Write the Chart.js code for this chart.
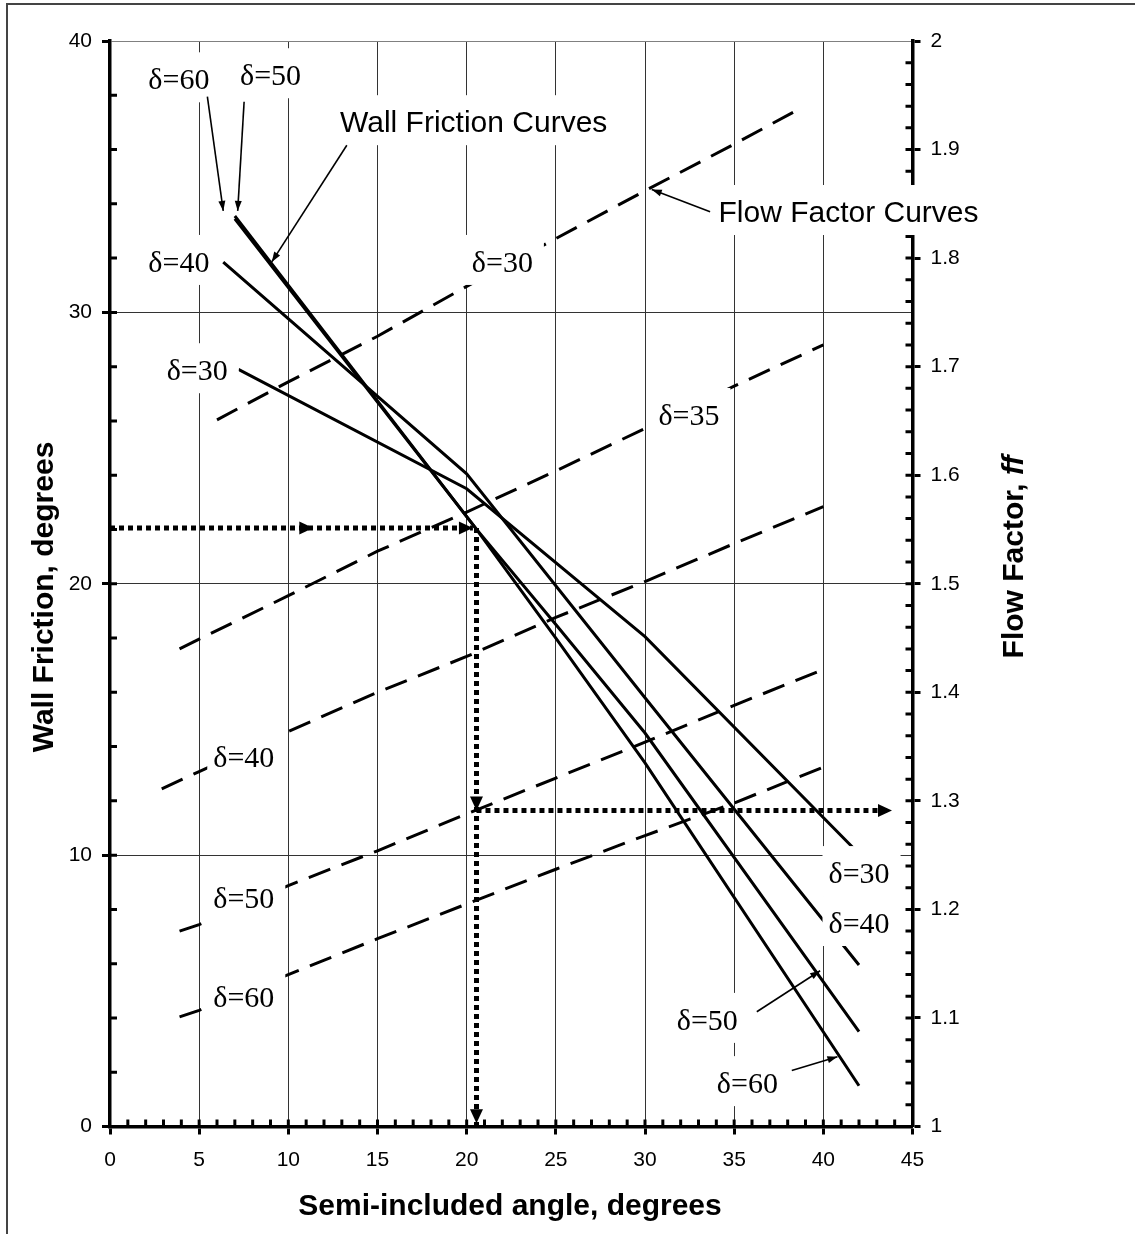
<!DOCTYPE html>
<html>
<head>
<meta charset="utf-8">
<title>Wall Friction / Flow Factor</title>
<script src="https://cdn.jsdelivr.net/npm/chart.js@4.4.1/dist/chart.umd.min.js"></script>
<style>
    html, body { margin: 0; padding: 0; background: #fff; }
    #wrap { position: relative; width: 1135px; height: 1234px; }
    canvas { display: block; }
</style>
</head>
<body>
<div id="wrap"><canvas id="chart" width="1135" height="1234"></canvas></div>
<script>
// ---- data ----
// wall friction curves (semi-included angle -> wall friction, degrees)
const wallAngle30 = [7.2, 20, 30, 42];
const wall30 = [27.9, 23.5, 18.05, 10.05];
const wallAngle40 = [6.35, 20, 30, 42];
const wall40 = [31.85, 24.05, 15.8, 5.95];
const wallAngle50 = [7.0, 20.5, 25, 30, 42];
const wall50 = [33.55, 22.05, 18.5, 14.5, 3.5];
const wallAngle60 = [7.0, 20.5, 25, 30, 42];
const wall60 = [33.45, 22.05, 18.0, 13.4, 1.5];

// flow factor curves (semi-included angle -> ff)
const ffAngle30 = [6, 10, 15, 20, 25, 30, 35, 38.5];
const ff30 = [1.651, 1.686, 1.728, 1.774, 1.818, 1.862, 1.905, 1.936];
const ffAngle35 = [3.9, 5, 10, 15, 20, 25, 30, 35, 40];
const ff35 = [1.440, 1.449, 1.489, 1.530, 1.566, 1.604, 1.643, 1.682, 1.720];
const ffAngle40 = [2.9, 5, 10, 15, 20, 25, 30, 35, 40];
const ff40 = [1.311, 1.327, 1.364, 1.400, 1.433, 1.469, 1.502, 1.537, 1.571];
const ffAngle50 = [3.9, 5, 10, 15, 20, 25, 30, 35, 40];
const ff50 = [1.180, 1.186, 1.222, 1.254, 1.288, 1.321, 1.354, 1.388, 1.421];
const ffAngle60 = [3.9, 5, 10, 15, 20, 25, 30, 35, 40];
const ff60 = [1.101, 1.107, 1.140, 1.173, 1.205, 1.237, 1.268, 1.298, 1.331];

// worked example (dotted lines)
const exampleWall = 22.05;
const exampleAngle = 20.55;
const exampleFF = 1.291;
const exampleArrowEnd = 43.85;

// axes
const xTicks = [0, 5, 10, 15, 20, 25, 30, 35, 40, 45];
const wallTicks = [0, 10, 20, 30, 40];
const ffTicks = [1, 1.1, 1.2, 1.3, 1.4, 1.5, 1.6, 1.7, 1.8, 1.9, 2];

const SANS = '"Liberation Sans", Arial, sans-serif';
const SERIF = '"Liberation Serif", "Times New Roman", serif';

function toPoints(xs, ys) {
    return xs.map((x, i) => ({ x: x, y: ys[i] }));
}

function solid(xs, ys) {
    return {
        data: toPoints(xs, ys), yAxisID: 'y', showLine: true, pointRadius: 0,
        borderColor: '#000', borderWidth: 3, tension: 0,
    };
}

function dashed(xs, ys) {
    return {
        data: toPoints(xs, ys), yAxisID: 'y2', showLine: true, pointRadius: 0,
        borderColor: '#000', borderWidth: 3, borderDash: [23, 12], tension: 0,
    };
}

function dotted(points, axis) {
    return {
        data: points, yAxisID: axis, showLine: true, pointRadius: 0,
        borderColor: '#000', borderWidth: 5, borderDash: [5, 4], borderCapStyle: 'butt',
    };
}

const datasets = [
    solid(wallAngle30, wall30),
    solid(wallAngle40, wall40),
    solid(wallAngle50, wall50),
    solid(wallAngle60, wall60),
    dashed(ffAngle30, ff30),
    dashed(ffAngle35, ff35),
    dashed(ffAngle40, ff40),
    dashed(ffAngle50, ff50),
    dashed(ffAngle60, ff60),
    dotted([{ x: 0, y: exampleWall }, { x: exampleAngle - 0.2, y: exampleWall }], 'y'),
    dotted([{ x: exampleAngle, y: exampleWall }, { x: exampleAngle, y: 0 }], 'y'),
    dotted([{ x: exampleAngle, y: exampleFF }, { x: exampleArrowEnd - 0.3, y: exampleFF }], 'y2'),
];

// ---- annotations (anchor = left end of text baseline, in angle / wall-friction units) ----
const notes = [
    { t: 'δ=60', x: 2.15, y: 38.22, serif: true },
    { t: 'δ=50', x: 7.29, y: 38.37, serif: true },
    { t: 'Wall Friction Curves', x: 12.9, y: 36.64 },
    { t: 'Flow Factor Curves', x: 34.12, y: 33.33 },
    { t: 'δ=40', x: 2.15, y: 31.49, serif: true },
    { t: 'δ=30', x: 3.18, y: 27.5, serif: true },
    { t: 'δ=30', x: 20.29, y: 31.49, serif: true },
    { t: 'δ=35', x: 30.75, y: 25.85, serif: true },
    { t: 'δ=40', x: 5.79, y: 13.25, serif: true },
    { t: 'δ=50', x: 5.79, y: 8.05, serif: true },
    { t: 'δ=60', x: 5.79, y: 4.40, serif: true },
    { t: 'δ=30', x: 40.29, y: 8.97, serif: true },
    { t: 'δ=40', x: 40.29, y: 7.13, serif: true },
    { t: 'δ=50', x: 31.78, y: 3.56, serif: true },
    { t: 'δ=60', x: 34.03, y: 1.23, serif: true },
];

const pointers = [
    [5.46, 37.95, 6.35, 33.74],
    [7.52, 37.76, 7.16, 33.74],
    [13.28, 36.16, 9.07, 31.86],
    [33.65, 33.71, 30.38, 34.53],
    [36.27, 4.23, 39.82, 5.74],
    [38.23, 2.06, 40.79, 2.57],
];

function arrowHead(ctx, x1, y1, x2, y2, len, half) {
    const a = Math.atan2(y2 - y1, x2 - x1);
    const c = Math.cos(a), s = Math.sin(a);
    ctx.beginPath();
    ctx.moveTo(x2, y2);
    ctx.lineTo(x2 - len * c + half * s, y2 - len * s - half * c);
    ctx.lineTo(x2 - len * c - half * s, y2 - len * s + half * c);
    ctx.closePath();
    ctx.fill();
}

// minor ticks + inner half of major ticks
const minorTicks = {
    id: 'minorTicks',
    beforeDatasetsDraw(chart) {
        const { ctx, chartArea: a, scales } = chart;
        ctx.save();
        ctx.strokeStyle = '#000';
        ctx.lineWidth = 3;
        ctx.beginPath();
        for (let v = 1; v < 45; v++) {
            const px = scales.x.getPixelForValue(v);
            ctx.moveTo(px, a.bottom);
            ctx.lineTo(px, a.bottom - 7);
        }
        for (let v = 2; v < 40; v += 2) {
            const py = scales.y.getPixelForValue(v);
            ctx.moveTo(a.left, py);
            ctx.lineTo(a.left + 7, py);
        }
        for (let i = 1; i < 50; i++) {
            const py = scales.y2.getPixelForValue(1 + i * 0.02);
            ctx.moveTo(a.right, py);
            ctx.lineTo(a.right - 7, py);
        }
        ctx.stroke();
        ctx.restore();
    },
};

const annotations = {
    id: 'annotations',
    afterDatasetsDraw(chart) {
        const { ctx, scales } = chart;
        const X = v => scales.x.getPixelForValue(v);
        const Y = v => scales.y.getPixelForValue(v);
        const F = v => scales.y2.getPixelForValue(v);
        ctx.save();
        // white boxes behind labels
        const placed = notes.map(n => {
            ctx.font = n.serif ? '30px ' + SERIF : '30px ' + SANS;
            const w = ctx.measureText(n.t).width;
            return { n, w, font: ctx.font, x: X(n.x), y: Y(n.y) };
        });
        ctx.fillStyle = '#fff';
        placed.forEach(p => ctx.fillRect(p.x - 6, p.y - 37, p.w + 17, 50));
        ctx.fillStyle = '#000';
        ctx.textBaseline = 'alphabetic';
        ctx.textAlign = 'left';
        placed.forEach(p => {
            ctx.font = p.font;
            ctx.fillText(p.n.t, p.x, p.y);
        });

        // pointer arrows
        ctx.strokeStyle = '#000';
        ctx.lineWidth = 1.6;
        pointers.forEach(([x1, y1, x2, y2]) => {
            const a1 = X(x1), b1 = Y(y1), a2 = X(x2), b2 = Y(y2);
            ctx.beginPath();
            ctx.moveTo(a1, b1);
            ctx.lineTo(a2, b2);
            ctx.stroke();
            arrowHead(ctx, a1, b1, a2, b2, 10, 3.5);
        });

        // arrowheads on the dotted worked example
        const hw = Y(exampleWall);
        arrowHead(ctx, X(0), hw, X(11.4), hw, 14, 6.5);
        arrowHead(ctx, X(0), hw, X(exampleAngle - 0.2), hw, 14, 6.5);
        const vx = X(exampleAngle);
        arrowHead(ctx, vx, Y(exampleWall), vx, F(exampleFF), 14, 6.5);
        arrowHead(ctx, vx, Y(exampleWall), vx, Y(0.12), 14, 6.5);
        arrowHead(ctx, vx, F(exampleFF), X(exampleArrowEnd), F(exampleFF), 14, 6.5);
        ctx.restore();
    },
    afterDraw(chart) {
        const { ctx } = chart;
        ctx.save();
        // outer frame (top and left edges visible)
        ctx.strokeStyle = '#444';
        ctx.lineWidth = 2;
        ctx.beginPath();
        ctx.moveTo(7, 1234);
        ctx.lineTo(7, 4);
        ctx.lineTo(1135, 4);
        ctx.stroke();

        ctx.fillStyle = '#000';
        ctx.textBaseline = 'alphabetic';
        ctx.textAlign = 'center';
        ctx.font = 'bold 30px ' + SANS;
        ctx.fillText('Semi-included angle, degrees', 510, 1215);

        ctx.save();
        ctx.translate(53, 597);
        ctx.rotate(-Math.PI / 2);
        ctx.fillText('Wall Friction, degrees', 0, 0);
        ctx.restore();

        ctx.save();
        ctx.translate(1023, 557);
        ctx.rotate(-Math.PI / 2);
        ctx.textAlign = 'left';
        ctx.font = 'bold 30px ' + SANS;
        const part1 = 'Flow Factor, ';
        const w1 = ctx.measureText(part1).width;
        ctx.font = 'italic bold 30px ' + SANS;
        const w2 = ctx.measureText('ff').width;
        const start = -(w1 + w2) / 2;
        ctx.font = 'bold 30px ' + SANS;
        ctx.fillText(part1, start, 0);
        ctx.font = 'italic bold 30px ' + SANS;
        ctx.fillText('ff', start + w1, 0);
        ctx.restore();
        ctx.restore();
    },
};

const tickFont = { family: SANS, size: 21 };

new Chart(document.getElementById('chart'), {
    type: 'scatter',
    data: { datasets },
    options: {
        responsive: false,
        animation: false,
        devicePixelRatio: 1,
        layout: { padding: { top: 41, left: 0, right: 0, bottom: 0 } },
        plugins: { legend: { display: false }, tooltip: { enabled: false } },
        scales: {
            x: {
                type: 'linear', min: 0, max: 45,
                afterBuildTicks: s => { s.ticks = xTicks.map(v => ({ value: v })); },
                afterFit: s => { s.height = 107.5; },
                ticks: { font: tickFont, color: '#000', padding: 13, maxRotation: 0 },
                grid: { color: '#333', lineWidth: 1, tickLength: 8, tickWidth: 3, tickColor: '#000' },
                border: { color: '#000', width: 3.5 },
            },
            y: {
                type: 'linear', position: 'left', min: 0, max: 40,
                afterBuildTicks: s => { s.ticks = wallTicks.map(v => ({ value: v })); },
                afterFit: s => { s.width = 110; },
                ticks: { font: tickFont, color: '#000', padding: 10 },
                grid: {
                    color: c => (c.tick && c.tick.value === 40 ? '#808080' : '#333'),
                    lineWidth: 1, tickLength: 8, tickWidth: 3, tickColor: '#000',
                },
                border: { color: '#000', width: 3.5 },
            },
            y2: {
                type: 'linear', position: 'right', min: 1, max: 2,
                afterBuildTicks: s => { s.ticks = ffTicks.map(v => ({ value: v })); },
                afterFit: s => { s.width = 222.5; },
                ticks: {
                    font: tickFont, color: '#000', padding: 10,
                    callback: v => String(Math.round(v * 10) / 10),
                },
                grid: { drawOnChartArea: false, tickLength: 8, tickWidth: 3, tickColor: '#000' },
                border: { color: '#000', width: 3.5 },
            },
        },
    },
    plugins: [minorTicks, annotations],
});
</script>
</body>
</html>
